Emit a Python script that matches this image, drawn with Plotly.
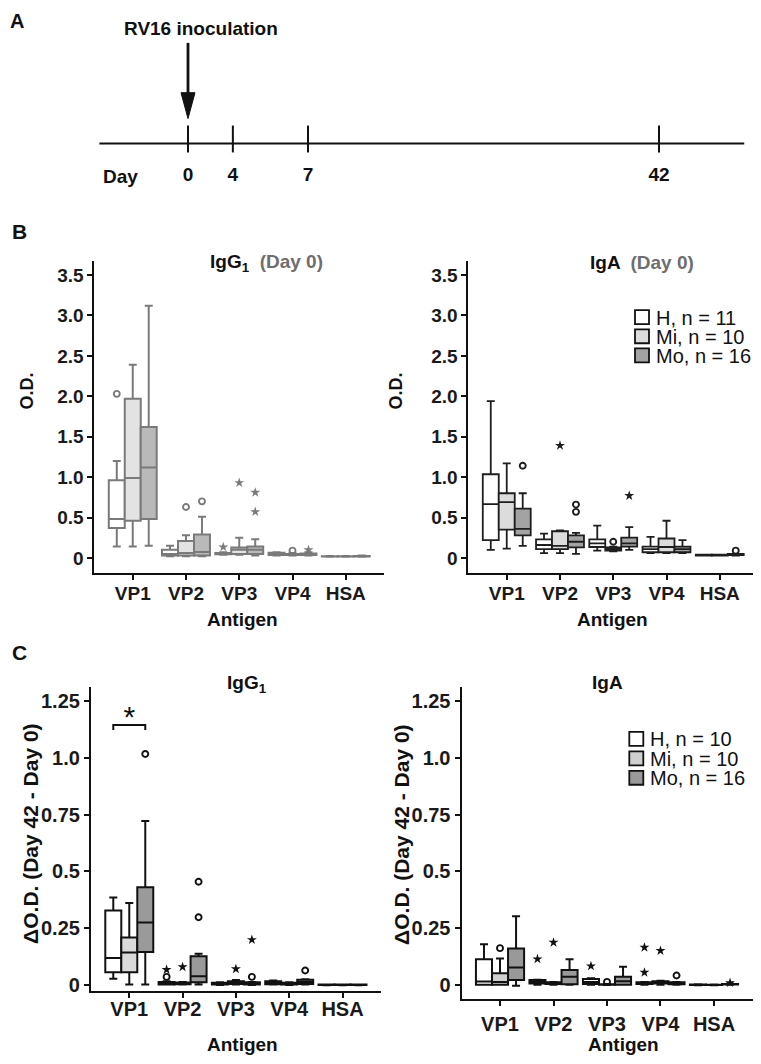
import plotly.graph_objects as go

W, H = 761, 1064
OFF = 8  # page body margin in the browser
FONT = "Liberation Sans, Arial, sans-serif"

# ---------------- data ----------------
ANTIGENS = ["VP1", "VP2", "VP3", "VP4", "HSA"]
GROUPS = ["H", "Mi", "Mo"]

# Panel A timeline (schematic, not to scale)
TIMELINE_LABELS = ["0", "4", "7", "42"]
TIMELINE_POS = [0, 4, 10.7, 42]
INOCULATION_POS = 0
TIMELINE_EXTENT = [-7.9, 49.6]

# Box statistics per antigen: (lower whisker, Q1, median, Q3, upper whisker)
IGG1_D0_H = [(0.14, 0.37, 0.48, 0.96, 1.20), (0.02, 0.03, 0.05, 0.10, 0.15),
             (0.04, 0.045, 0.05, 0.06, 0.07), (0.03, 0.035, 0.05, 0.065, 0.07),
             (0.015, 0.018, 0.02, 0.022, 0.025)]
IGG1_D0_MI = [(0.14, 0.46, 0.99, 1.97, 2.39), (0.02, 0.03, 0.06, 0.21, 0.28),
              (0.04, 0.05, 0.10, 0.13, 0.25), (0.03, 0.035, 0.04, 0.05, 0.06),
              (0.015, 0.018, 0.02, 0.022, 0.025)]
IGG1_D0_MO = [(0.15, 0.48, 1.12, 1.62, 3.12), (0.02, 0.03, 0.074, 0.29, 0.51),
              (0.03, 0.05, 0.10, 0.14, 0.23), (0.03, 0.035, 0.045, 0.055, 0.07),
              (0.015, 0.018, 0.02, 0.025, 0.03)]
IGG1_D0_OUT = [("VP1", "H", 2.03, "o"), ("VP2", "Mi", 0.63, "o"), ("VP2", "Mo", 0.70, "o"),
               ("VP3", "H", 0.135, "*"), ("VP3", "Mi", 0.93, "*"), ("VP3", "Mo", 0.81, "*"),
               ("VP3", "Mo", 0.57, "*"), ("VP4", "Mi", 0.09, "o"), ("VP4", "Mo", 0.10, "*")]

IGA_D0_H = [(0.10, 0.22, 0.665, 1.035, 1.94), (0.06, 0.11, 0.16, 0.23, 0.30),
            (0.09, 0.135, 0.18, 0.23, 0.40), (0.06, 0.07, 0.11, 0.14, 0.26),
            (0.03, 0.03, 0.035, 0.04, 0.04)]
IGA_D0_MI = [(0.115, 0.35, 0.69, 0.80, 1.17), (0.06, 0.11, 0.15, 0.33, 0.34),
             (0.08, 0.09, 0.11, 0.13, 0.14), (0.06, 0.07, 0.135, 0.24, 0.46),
             (0.03, 0.03, 0.035, 0.04, 0.04)]
IGA_D0_MO = [(0.15, 0.28, 0.36, 0.61, 0.80), (0.05, 0.13, 0.20, 0.28, 0.31),
             (0.10, 0.14, 0.18, 0.25, 0.38), (0.06, 0.07, 0.11, 0.14, 0.22),
             (0.03, 0.035, 0.04, 0.05, 0.05)]
IGA_D0_OUT = [("VP1", "Mo", 1.14, "o"), ("VP2", "Mi", 1.39, "*"), ("VP2", "Mo", 0.66, "o"),
              ("VP2", "Mo", 0.57, "o"), ("VP3", "Mi", 0.20, "o"), ("VP3", "Mo", 0.77, "*"),
              ("HSA", "Mo", 0.09, "o")]

IGG1_D42_H = [(0.026, 0.054, 0.117, 0.327, 0.385), (0.0, 0.0, 0.004, 0.012, 0.015),
              (-0.002, 0.0, 0.003, 0.008, 0.01), (0.0, 0.002, 0.008, 0.015, 0.018),
              (-0.003, -0.002, -0.001, 0.0, 0.0)]
IGG1_D42_MI = [(0.0, 0.054, 0.142, 0.208, 0.36), (0.0, 0.002, 0.005, 0.009, 0.012),
               (0.0, 0.003, 0.008, 0.015, 0.02), (-0.002, 0.0, 0.003, 0.008, 0.01),
               (-0.003, -0.002, -0.001, 0.0, 0.0)]
IGG1_D42_MO = [(0.0, 0.144, 0.274, 0.43, 0.722), (0.0, 0.01, 0.037, 0.125, 0.136),
               (-0.002, 0.0, 0.004, 0.01, 0.012), (0.0, 0.003, 0.012, 0.022, 0.024),
               (-0.003, -0.002, -0.001, 0.0, 0.0)]
IGG1_D42_OUT = [("VP1", "Mo", 1.018, "o"), ("VP2", "H", 0.066, "*"), ("VP2", "H", 0.034, "o"),
                ("VP2", "Mi", 0.078, "*"), ("VP2", "Mo", 0.454, "o"), ("VP2", "Mo", 0.297, "o"),
                ("VP3", "Mi", 0.069, "*"), ("VP3", "Mo", 0.198, "*"), ("VP3", "Mo", 0.034, "o"),
                ("VP4", "Mo", 0.062, "o")]
IGG1_D42_SIG = [("VP1", "H", "Mo", 1.146, "*")]

IGA_D42_H = [(0.0, 0.0, 0.014, 0.112, 0.178), (0.0, 0.005, 0.012, 0.02, 0.022),
             (0.0, 0.003, 0.012, 0.025, 0.028), (0.0, 0.003, 0.007, 0.01, 0.012),
             (-0.003, -0.002, 0.0, 0.001, 0.002)]
IGA_D42_MI = [(0.0, 0.0, 0.012, 0.05, 0.115), (0.0, 0.003, 0.006, 0.01, 0.012),
              (-0.002, -0.001, 0.0, 0.002, 0.003), (0.0, 0.005, 0.01, 0.015, 0.017),
              (-0.003, -0.002, -0.001, 0.0, 0.001)]
IGA_D42_MO = [(-0.005, 0.02, 0.076, 0.159, 0.302), (0.0, 0.002, 0.035, 0.064, 0.112),
              (0.0, 0.0, 0.015, 0.035, 0.079), (0.0, 0.002, 0.006, 0.01, 0.012),
              (0.0, 0.001, 0.002, 0.003, 0.004)]
IGA_D42_OUT = [("VP1", "Mi", 0.161, "o"), ("VP2", "H", 0.113, "*"), ("VP2", "Mi", 0.186, "*"),
               ("VP3", "H", 0.082, "*"), ("VP3", "Mi", 0.012, "o"), ("VP4", "H", 0.164, "*"),
               ("VP4", "H", 0.054, "*"), ("VP4", "Mi", 0.15, "*"), ("VP4", "Mo", 0.04, "o"),
               ("HSA", "Mo", 0.008, "*")]

N_DAY0 = [11, 10, 16]
N_DELTA = [10, 10, 16]

B_TICKS = [0, 0.5, 1.0, 1.5, 2.0, 2.5, 3.0, 3.5]
B_TICKTEXT = ["0", "0.5", "1.0", "1.5", "2.0", "2.5", "3.0", "3.5"]
C_TICKS = [0, 0.25, 0.5, 0.75, 1.0, 1.25]
C_TICKTEXT = ["0", "0.25", "0.5", "0.75", "1.0", "1.25"]

# ---------------- styling / layout helpers ----------------
OFFSETS = [-0.3, 0.0, 0.3]
BOXW = 0.3


def fx(p):
    return (p - OFF) / W


def fy(p):
    return 1 - (p - OFF) / H


panels = [
    dict(stats=[IGG1_D0_H, IGG1_D0_MI, IGG1_D0_MO], out=IGG1_D0_OUT,
         xd=(94.4, 384.1), yd=(262, 575), yr=(-0.185, 3.673), ticks=(B_TICKS, B_TICKTEXT),
         fills=["#ffffff", "#e3e3e3", "#b9b9b9"], line="#7a7a7a", lw=2, mk="#7a7a7a",
         tsize=19, xstand=-3),
    dict(stats=[IGA_D0_H, IGA_D0_MI, IGA_D0_MO], out=IGA_D0_OUT,
         xd=(468.4, 758.1), yd=(262, 575), yr=(-0.185, 3.673), ticks=(B_TICKS, B_TICKTEXT),
         fills=["#ffffff", "#dcdcdc", "#a3a3a3"], line="#1e1e1e", lw=1.8, mk="#1e1e1e",
         tsize=19, xstand=-3),
    dict(stats=[IGG1_D42_H, IGG1_D42_MI, IGG1_D42_MO], out=IGG1_D42_OUT,
         xd=(90.9, 380.9), yd=(690, 995), yr=(-0.0295, 1.3116), ticks=(C_TICKS, C_TICKTEXT),
         fills=["#ffffff", "#dadada", "#9a9a9a"], line="#111111", lw=2, mk="#111111",
         tsize=20, xstand=-6),
    dict(stats=[IGA_D42_H, IGA_D42_MI, IGA_D42_MO], out=IGA_D42_OUT,
         xd=(461.5, 752.5), yd=(690, 1003), yr=(-0.0646, 1.3116), ticks=(C_TICKS, C_TICKTEXT),
         fills=["#ffffff", "#cfcfcf", "#999999"], line="#111111", lw=2, mk="#111111",
         tsize=20, xstand=1),
]

fig = go.Figure()
layout = dict(width=W, height=H, margin=dict(l=0, r=0, t=0, b=0),
              paper_bgcolor="white", plot_bgcolor="rgba(0,0,0,0)", showlegend=False,
              boxmode="overlay", font=dict(family=FONT, color="#111111"))

for k, p in enumerate(panels):
    ax = k + 1
    xa = "x" if ax == 1 else f"x{ax}"
    ya = "y" if ax == 1 else f"y{ax}"
    for gi, g in enumerate(GROUPS):
        st = p["stats"][gi]
        fig.add_trace(go.Box(
            x=[i + OFFSETS[gi] for i in range(len(ANTIGENS))],
            lowerfence=[s[0] for s in st], q1=[s[1] for s in st], median=[s[2] for s in st],
            q3=[s[3] for s in st], upperfence=[s[4] for s in st],
            width=BOXW, whiskerwidth=0.5, boxpoints=False,
            fillcolor=p["fills"][gi], line=dict(color=p["line"], width=p["lw"]),
            name=g, xaxis=xa, yaxis=ya, hoverinfo="skip", showlegend=False))
    for kind, sym, size in (("o", "circle-open", 6), ("*", "star", 7.5)):
        pts = [o for o in p["out"] if o[3] == kind]
        fig.add_trace(go.Scatter(
            x=[ANTIGENS.index(o[0]) + OFFSETS[GROUPS.index(o[1])] for o in pts],
            y=[o[2] for o in pts], mode="markers",
            marker=dict(symbol=sym, size=size, color=p["mk"],
                        line=dict(color=p["mk"], width=1.9 if kind == "o" else 0)),
            xaxis=xa, yaxis=ya, hoverinfo="skip", showlegend=False))
    axis_common = dict(showline=True, linecolor="#111111", linewidth=2, ticks="outside",
                       ticklen=5, tickwidth=2, tickcolor="#111111", showgrid=False,
                       zeroline=False, fixedrange=True,
                       tickfont=dict(family=FONT, size=p["tsize"], color="#1a1a1a", weight="bold"))
    layout["xaxis" if ax == 1 else f"xaxis{ax}"] = dict(
        domain=[fx(p["xd"][0]), fx(p["xd"][1])], range=[-0.72, 4.72],
        tickvals=list(range(len(ANTIGENS))), ticktext=ANTIGENS,
        ticklabelstandoff=p["xstand"], anchor=ya, **axis_common)
    layout["yaxis" if ax == 1 else f"yaxis{ax}"] = dict(
        domain=[fy(p["yd"][1]), fy(p["yd"][0])], range=list(p["yr"]),
        tickvals=p["ticks"][0], ticktext=p["ticks"][1], anchor=xa, **axis_common)

# significance bracket (panel C, IgG1)
for ag, g1, g2, yv, lab in IGG1_D42_SIG:
    x1 = ANTIGENS.index(ag) + OFFSETS[GROUPS.index(g1)]
    x2 = ANTIGENS.index(ag) + OFFSETS[GROUPS.index(g2)]
    fig.add_trace(go.Scatter(x=[x1, x1, x2, x2], y=[yv - 0.022, yv, yv, yv - 0.022],
                             mode="lines", line=dict(color="#111111", width=2),
                             xaxis="x3", yaxis="y3", hoverinfo="skip", showlegend=False))
    fig.add_trace(go.Scatter(x=[(x1 + x2) / 2], y=[yv + 0.026], mode="text", text=[lab],
                             textfont=dict(family=FONT, size=30, color="#111111"),
                             textposition="middle center",
                             xaxis="x3", yaxis="y3", hoverinfo="skip", showlegend=False))

# ---------------- panel A: timeline ----------------
S = (659 - 188) / 42.0
layout["xaxis5"] = dict(domain=[0, 1], range=[(OFF - 188) / S, (W + OFF - 188) / S],
                        visible=False, fixedrange=True, anchor="y5")
layout["yaxis5"] = dict(domain=[0, 1], range=[H + OFF, OFF], visible=False, fixedrange=True,
                        anchor="x5")
tx, ty = [], []
for pos in TIMELINE_POS:
    tx += [pos, pos, None]
    ty += [126, 153, None]
fig.add_trace(go.Scatter(x=TIMELINE_EXTENT, y=[144, 144], mode="lines",
                         line=dict(color="#111111", width=2.2), xaxis="x5", yaxis="y5",
                         hoverinfo="skip", showlegend=False))
fig.add_trace(go.Scatter(x=tx, y=ty, mode="lines", line=dict(color="#111111", width=2),
                         xaxis="x5", yaxis="y5", hoverinfo="skip", showlegend=False))
fig.add_trace(go.Scatter(x=TIMELINE_POS, y=[177] * len(TIMELINE_POS), mode="text",
                         text=TIMELINE_LABELS,
                         textfont=dict(family=FONT, size=19, color="#111111", weight="bold"),
                         xaxis="x5", yaxis="y5", hoverinfo="skip", showlegend=False))

shapes = []
hw = 7 / S
shapes.append(dict(type="line", xref="x5", yref="y5", x0=INOCULATION_POS, x1=INOCULATION_POS,
                   y0=43, y1=96, line=dict(color="#111111", width=2.8)))
shapes.append(dict(type="path", xref="x5", yref="y5",
                   path=f"M {INOCULATION_POS - hw},93 L {INOCULATION_POS + hw},93 L {INOCULATION_POS},119 Z",
                   fillcolor="#111111", line=dict(color="#111111", width=1)))

ann = []


def text(xp, yp, s, size, bold=True, color="#111111", angle=0, xanchor="center"):
    ann.append(dict(x=fx(xp), y=fy(yp), xref="paper", yref="paper", text=s, showarrow=False,
                    xanchor=xanchor, yanchor="middle", textangle=angle,
                    font=dict(family=FONT, size=size, color=color,
                              weight="bold" if bold else "normal")))


text(201, 29, "RV16 inoculation", 19)
text(120, 177, "Day", 19)

# panel letters
text(17, 21, "A", 20)
text(20, 232, "B", 21)
text(20, 655, "C", 21)

# titles
text(266, 264, "IgG<sub>1</sub> &nbsp;<span style='color:#6e6e6e'>(Day 0)</span>", 19)
text(642, 263, "IgA &nbsp;<span style='color:#6e6e6e'>(Day 0)</span>", 19)
text(247, 687, "IgG<sub>1</sub>", 19)
text(607, 685, "IgA", 19)

# axis titles
text(27, 393, "O.D.", 18, angle=-90)
text(396, 393, "O.D.", 18, angle=-90)
text(31, 837, "ΔO.D. (Day 42 - Day 0)", 21, angle=-90)
text(402, 837, "ΔO.D. (Day 42 - Day 0)", 21, angle=-90)
text(242, 622, "Antigen", 19)
text(612, 622, "Antigen", 19)
text(242, 1048, "Antigen", 19)
text(623, 1048, "Antigen", 19)

# legends
for (x0, rows, ns, fills, tx0) in (
        (635, [318.3, 337.5, 356.7], N_DAY0, panels[1]["fills"], 654),
        (629.3, [741.7, 761.2, 780.7], N_DELTA, panels[3]["fills"], 648.3)):
    for g, yc, n, fc in zip(GROUPS, rows, ns, fills):
        shapes.append(dict(type="rect", xref="paper", yref="paper",
                           x0=fx(x0), x1=fx(x0 + 14), y0=fy(yc + 7), y1=fy(yc - 7),
                           fillcolor=fc, line=dict(color="#111111", width=1.8)))
        text(tx0, yc + 0.5, f"{g}, n = {n}", 20, bold=False, xanchor="left")

layout["shapes"] = shapes
layout["annotations"] = ann
fig.update_layout(**layout)
fig.write_html("out.html")
